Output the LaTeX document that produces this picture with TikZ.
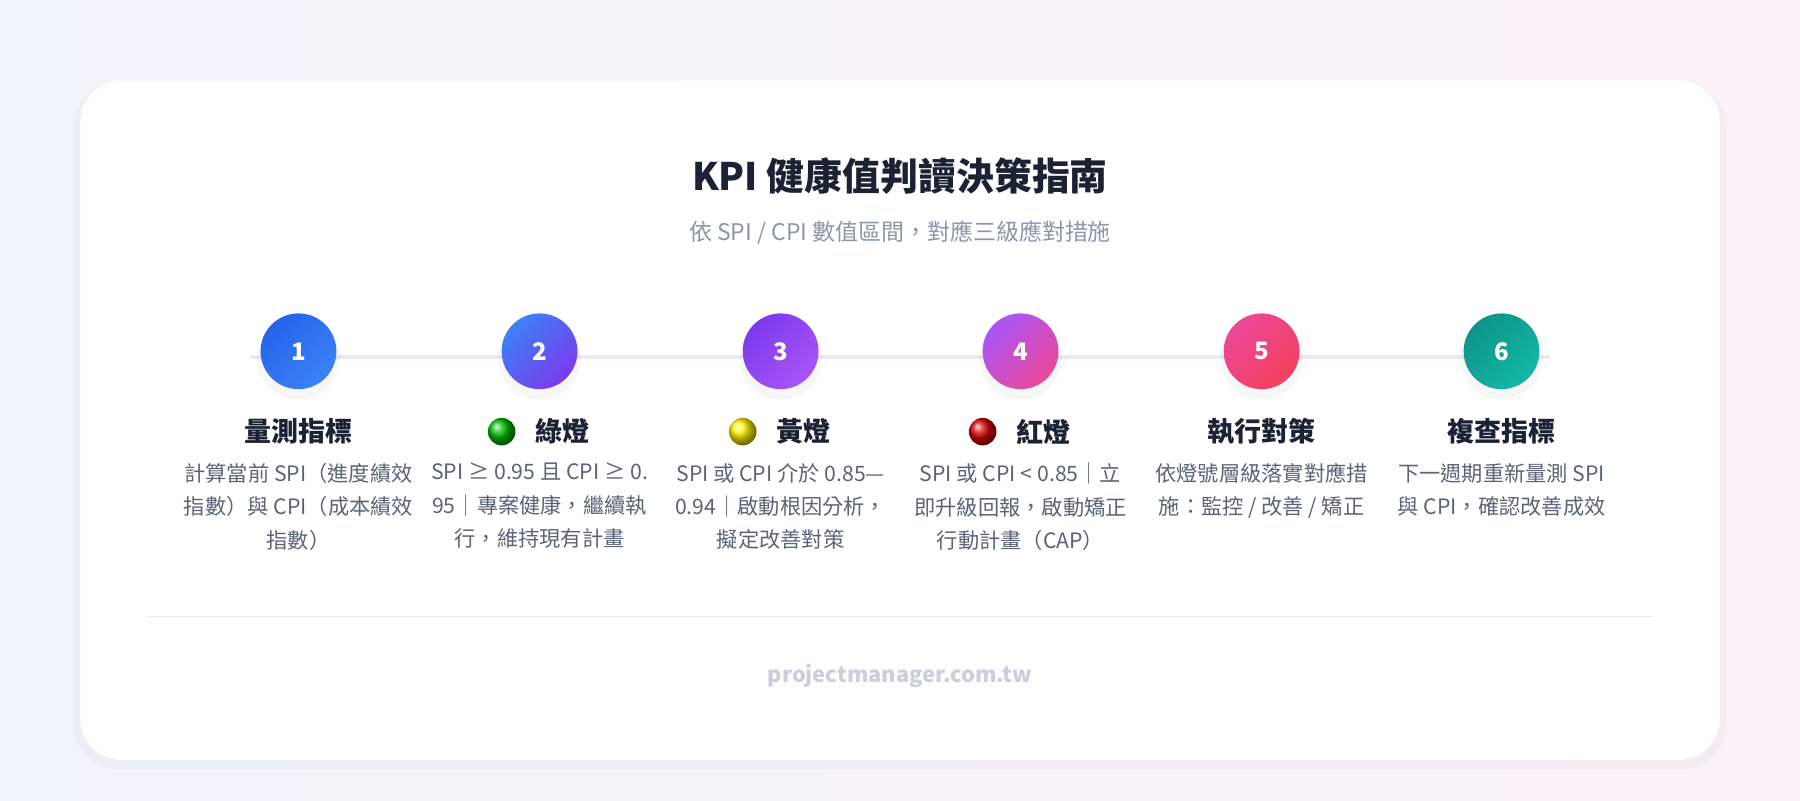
\documentclass[tikz,border=0pt]{standalone}
\usepackage{fontspec}
\setmainfont{Noto Sans CJK TC}
\usetikzlibrary{positioning}
\definecolor{bgA}{HTML}{EFF3FA}
\definecolor{bgB}{HTML}{FBF1F7}
\definecolor{titlec}{HTML}{1A2233}
\definecolor{subc}{HTML}{8A97AB}
\definecolor{descc}{HTML}{5A6478}
\definecolor{linec}{HTML}{E9EBF0}
\definecolor{footc}{HTML}{C9D0DC}
\definecolor{cA1}{HTML}{2563EB}\definecolor{cB1}{HTML}{3B82F6}
\definecolor{cA2}{HTML}{3B82F6}\definecolor{cB2}{HTML}{7C3AED}
\definecolor{cA3}{HTML}{7C3AED}\definecolor{cB3}{HTML}{A855F7}
\definecolor{cA4}{HTML}{A855F7}\definecolor{cB4}{HTML}{EC4899}
\definecolor{cA5}{HTML}{EC4899}\definecolor{cB5}{HTML}{F43F5E}
\definecolor{cA6}{HTML}{0D9488}\definecolor{cB6}{HTML}{14B8A6}
\begin{document}
\begin{tikzpicture}[x=1pt,y=-1pt]

  \tikzstyle{stepdot}=[circle,minimum size=66pt,inner sep=0pt,text=white,
                       font=\fontsize{21}{21}\selectfont\bfseries]
  \tikzstyle{steptitle}=[font=\fontsize{23.5}{24}\selectfont\bfseries,text=titlec]
  \tikzstyle{stepdesc}=[font=\fontsize{18.5}{29}\selectfont,text=descc,align=center,anchor=north]

  \useasboundingbox (0,0) rectangle (1568,697);
  \shade[left color=bgA,right color=bgB] (0,0) rectangle (1568,697);
  \fill[black,opacity=0.02,rounded corners=40pt] (64,72) rectangle (1504,670);
  \fill[white,rounded corners=36pt] (70,70) rectangle (1498,662);

  \node[font=\fontsize{33}{36}\selectfont\bfseries,text=titlec] (title) at (784,153) {KPI 健康值判讀決策指南};
  \node[font=\fontsize{20}{22}\selectfont,text=subc] (subtitle) at (784,203) {依 SPI / CPI 數值區間，對應三級應對措施};

  \draw[linec,line width=4pt] (218,311) -- (1350,311);

  \foreach \i/\x in {1/260,2/470,3/680,4/889,5/1099,6/1308} {
    \fill[black,opacity=0.03] (\x,312) circle (36pt);
    \node[stepdot,shading=axis,left color=cA\i,right color=cB\i,shading angle=45] (s\i) at (\x,306) {\i};
  }

  % titles
  \node[steptitle] (t1) at (260,376) {量測指標};
  \node[steptitle] (t2) at (490,376) {綠燈};
  \node[steptitle] (t3) at (700,376) {黃燈};
  \node[steptitle] (t4) at (909,376) {紅燈};
  \node[steptitle] (t5) at (1099,376) {執行對策};
  \node[steptitle] (t6) at (1308,376) {複查指標};
  \shade[ball color=green!75!black] (437,376) circle (12pt);
  \shade[ball color=yellow!90!orange] (647,376) circle (12pt);
  \shade[ball color=red!85!black] (856,376) circle (12pt);

  % descriptions
  \node[stepdesc] (d1) at (260,400) {計算當前 SPI（進度績效\\指數）與 CPI（成本績效\\指數）};
  \node[stepdesc] (d2) at (470,400) {SPI ≥ 0.95 且 CPI ≥ 0.\\95｜專案健康，繼續執\\行，維持現有計畫};
  \node[stepdesc] (d3) at (680,400) {SPI 或 CPI 介於 0.85—\\0.94｜啟動根因分析，\\擬定改善對策};
  \node[stepdesc] (d4) at (889,400) {SPI 或 CPI < 0.85｜立\\即升級回報，啟動矯正\\行動計畫（CAP）};
  \node[stepdesc] (d5) at (1099,400) {依燈號層級落實對應措\\施：監控 / 改善 / 矯正};
  \node[stepdesc] (d6) at (1308,400) {下一週期重新量測 SPI\\與 CPI，確認改善成效};

  \draw[linec,line width=1.5pt] (127,537) -- (1440,537);
  \node[font=\fontsize{19}{20}\selectfont\bfseries,text=footc] (foot) at (784,589) {projectmanager.com.tw};
\end{tikzpicture}
\end{document}
